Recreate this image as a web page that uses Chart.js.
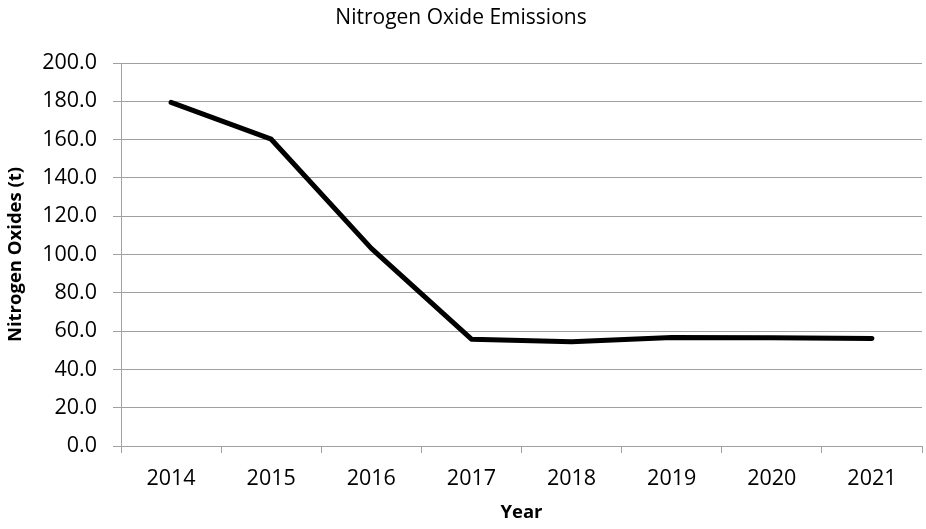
<!DOCTYPE html>
<html>
<head>
<meta charset="utf-8">
<script src="https://cdn.jsdelivr.net/npm/chart.js@4/dist/chart.umd.min.js"></script>
<style>
  html, body { margin: 0; padding: 0; background: #ffffff; }
  #wrap { width: 926px; height: 529px; position: relative; }
</style>
</head>
<body>
<div id="wrap"><canvas id="c" width="926" height="529"></canvas></div>
<script>
const chartTitle = "Nitrogen Oxide Emissions";
const xAxisTitle = "Year";
const yAxisTitle = "Nitrogen Oxides (t)";
const years = ["2014", "2015", "2016", "2017", "2018", "2019", "2020", "2021"];
const noxValues = [179.4, 160.2, 103.2, 55.8, 54.5, 56.7, 56.5, 56.2];
const yMin = 0, yMax = 200, yStep = 20;

const FONT = "'Open Sans', 'DejaVu Sans', sans-serif";
const GRID = "#a0a0a0";

new Chart(document.getElementById("c"), {
  type: "line",
  data: {
    labels: years,
    datasets: [{
      label: "NOx",
      data: noxValues,
      borderColor: "#000000",
      borderWidth: 5,
      borderJoinStyle: "round",
      borderCapStyle: "round",
      pointRadius: 0,
      pointHoverRadius: 0,
      tension: 0,
      fill: false
    }]
  },
  options: {
    responsive: false,
    animation: false,
    devicePixelRatio: 1,
    layout: { padding: { left: 0, right: 4, top: 0, bottom: 0 } },
    plugins: {
      legend: { display: false },
      tooltip: { enabled: false },
      title: {
        display: true,
        text: chartTitle,
        color: "#000000",
        font: { family: FONT, size: 21, weight: "normal" },
        padding: { top: 5, bottom: 32.8 }
      }
    },
    scales: {
      x: {
        type: "category",
        offset: true,
        afterFit: (s) => { s.height = 83; },
        grid: {
          offset: true,
          drawOnChartArea: false,
          drawTicks: true,
          tickLength: 7,
          color: GRID,
          lineWidth: 1
        },
        border: { display: true, color: GRID, width: 1 },
        ticks: {
          color: "#000000",
          font: { family: FONT, size: 21.5 },
          padding: 13,
          maxRotation: 0
        },
        title: {
          display: true,
          text: xAxisTitle,
          color: "#000000",
          font: { family: FONT, size: 18.5, weight: "bold" },
          padding: { top: 0, bottom: 5 }
        }
      },
      y: {
        min: yMin,
        max: yMax,
        afterFit: (s) => { s.width = 121; },
        grid: {
          drawOnChartArea: true,
          drawTicks: true,
          tickLength: 8,
          color: GRID,
          lineWidth: 1
        },
        border: { display: true, color: GRID, width: 1 },
        ticks: {
          stepSize: yStep,
          color: "#000000",
          font: { family: FONT, size: 21.5 },
          padding: 16,
          callback: (v) => Number(v).toFixed(1)
        },
        title: {
          display: true,
          text: yAxisTitle,
          color: "#000000",
          font: { family: FONT, size: 18.5, weight: "bold" },
          padding: { top: 5, bottom: 0 }
        }
      }
    }
  }
});
</script>
</body>
</html>
